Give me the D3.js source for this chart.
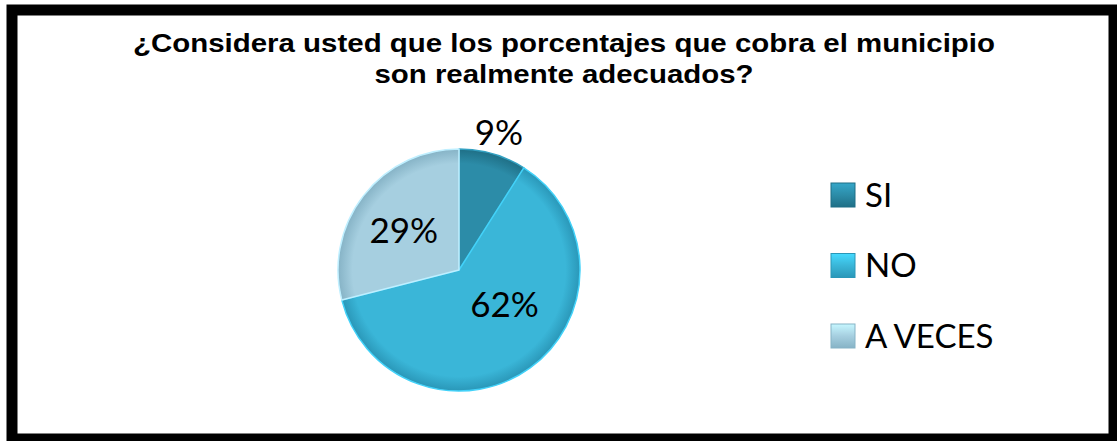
<!DOCTYPE html>
<html>
<head>
<meta charset="utf-8">
<script src="https://cdn.jsdelivr.net/npm/d3@7"></script>
<style>
  body { margin: 0; background: #fff; }
  svg { display: block; }
</style>
</head>
<body>
<svg id="chart"></svg>
<script>
const categories = ["SI", "NO", "A VECES"];
const values = [9, 62, 29];
const labels = ["9%", "62%", "29%"];
const titleLines = ["¿Considera usted que los porcentajes que cobra el municipio", "son realmente adecuados?"];

const colors = ["#2c8ca8", "#3ab6d8", "#a6cfe0"];
const rims = ["#1f6f86", "#2a97b8", "#86b3c6"];

// label placement per slice (fraction of radius) and small nudges
const labelRadius = [1.18, 0.5, 0.62];
const labelNudge = [[0, 0], [10, -15], [4, 6]];

const svgWidth = 1117, svgHeight = 441;
const svg = d3.select("#chart")
  .attr("width", svgWidth)
  .attr("height", svgHeight);

// thick black frame
svg.append("rect")
  .attr("x", 12).attr("y", 10)
  .attr("width", 1102).attr("height", 429)
  .attr("fill", "#fff")
  .attr("stroke", "#000")
  .attr("stroke-width", 11);

// title: the original type is set wide, so stretch it to the same length
const titleWidths = [862, 379];
svg.selectAll(".title")
  .data(titleLines)
  .enter()
  .append("text")
  .attr("class", "title")
  .attr("x", 564)
  .attr("y", (d, i) => 52 + i * 31)
  .attr("text-anchor", "middle")
  .attr("textLength", (d, i) => titleWidths[i])
  .attr("lengthAdjust", "spacingAndGlyphs")
  .style("font-family", "Arial, 'Liberation Sans', sans-serif")
  .style("font-weight", "bold")
  .style("font-size", "26px")
  .attr("fill", "#000")
  .text(d => d);

const defs = svg.append("defs");
colors.forEach((c, i) => {
  const g = defs.append("radialGradient")
    .attr("id", "grad" + i)
    .attr("gradientUnits", "userSpaceOnUse")
    .attr("cx", 0).attr("cy", 0).attr("r", 121);
  g.append("stop").attr("offset", "0%").attr("stop-color", c);
  g.append("stop").attr("offset", "88%").attr("stop-color", c);
  g.append("stop").attr("offset", "100%").attr("stop-color", rims[i]);

  const lg = defs.append("linearGradient")
    .attr("id", "lgrad" + i)
    .attr("x1", 0).attr("y1", 0).attr("x2", 0).attr("y2", 1);
  lg.append("stop").attr("offset", "0%").attr("stop-color", d3.color(c).brighter(0.5));
  lg.append("stop").attr("offset", "50%").attr("stop-color", c);
  lg.append("stop").attr("offset", "100%").attr("stop-color", rims[i]);
});

const cx = 459, cy = 270, radius = 121;
const pie = d3.pie().sort(null).value(d => d)(values);
const arc = d3.arc().innerRadius(0).outerRadius(radius);

const g = svg.append("g").attr("transform", `translate(${cx},${cy})`);

g.selectAll("path")
  .data(pie)
  .enter()
  .append("path")
  .attr("d", arc)
  .attr("fill", (d, i) => `url(#grad${i})`)
  .attr("stroke", (d, i) => d3.color(colors[i]).brighter(0.4))
  .attr("stroke-width", 1.5)
  .attr("stroke-linejoin", "round");

g.selectAll(".lbl")
  .data(pie)
  .enter()
  .append("text")
  .attr("class", "lbl")
  .attr("transform", (d, i) => {
    const r = radius * labelRadius[i];
    const p = d3.arc().innerRadius(r).outerRadius(r).centroid(d);
    return `translate(${p[0] + labelNudge[i][0]},${p[1] + labelNudge[i][1]})`;
  })
  .attr("text-anchor", "middle")
  .attr("dy", "0.36em")
  .style("font-family", "Lato, 'Open Sans', sans-serif")
  .style("font-size", "35px")
  .attr("fill", "#000")
  .text((d, i) => labels[i]);

const legend = svg.append("g").attr("transform", "translate(831,195)");
const item = legend.selectAll("g")
  .data(categories)
  .enter()
  .append("g")
  .attr("transform", (d, i) => `translate(0,${i * 70.5})`);

item.append("rect")
  .attr("x", 0).attr("y", -12)
  .attr("width", 24).attr("height", 24)
  .attr("fill", (d, i) => `url(#lgrad${i})`)
  .attr("stroke", (d, i) => rims[i])
  .attr("stroke-width", 1);

item.append("text")
  .attr("x", 34)
  .attr("dy", "0.36em")
  .style("font-family", "Lato, 'Open Sans', sans-serif")
  .style("font-size", "33px")
  .attr("fill", "#000")
  .text(d => d);
</script>
</body>
</html>
